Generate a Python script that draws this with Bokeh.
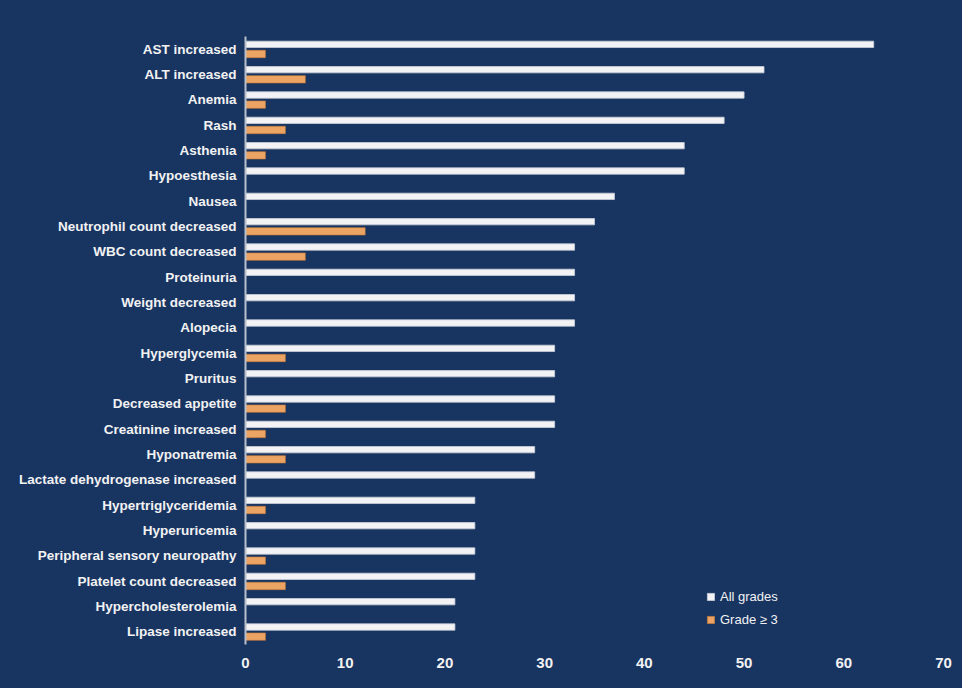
from bokeh.plotting import figure
from bokeh.models import ColumnDataSource, FactorRange, Legend, LegendItem, FixedTicker
from bokeh.transform import dodge
from bokeh.embed import file_html
from bokeh.resources import INLINE

categories = [
    "AST increased", "ALT increased", "Anemia", "Rash", "Asthenia", "Hypoesthesia",
    "Nausea", "Neutrophil count decreased", "WBC count decreased", "Proteinuria",
    "Weight decreased", "Alopecia", "Hyperglycemia", "Pruritus", "Decreased appetite",
    "Creatinine increased", "Hyponatremia", "Lactate dehydrogenase increased",
    "Hypertriglyceridemia", "Hyperuricemia", "Peripheral sensory neuropathy",
    "Platelet count decreased", "Hypercholesterolemia", "Lipase increased",
]
all_grades = [63, 52, 50, 48, 44, 44, 37, 35, 33, 33, 33, 33, 31, 31, 31, 31, 29, 29, 23, 23, 23, 23, 21, 21]
grade3 = [2, 6, 2, 4, 2, 0, 0, 12, 6, 0, 0, 0, 4, 0, 4, 2, 4, 0, 2, 0, 2, 4, 0, 2]
x_ticks = [0, 10, 20, 30, 40, 50, 60, 70]

BG = "#183562"
src = ColumnDataSource(dict(cat=categories, all=all_grades, g3=grade3))

p = figure(
    width=962, height=688,
    y_range=FactorRange(factors=list(reversed(categories))),
    x_range=(0, 70),
    output_backend="svg", toolbar_location=None,
    min_border_left=245, min_border_right=19, min_border_top=36, min_border_bottom=44,
    border_fill_color=BG, background_fill_color=BG,
)
p.border_fill_alpha = 0
p.background_fill_alpha = 0
p.outline_line_color = None
p.styles = {"background-color": BG}

r_all = p.hbar(y=dodge("cat", 0.19, range=p.y_range), left=0, right="all", height=0.25,
               source=src, fill_color="#f3f3f5", line_color="#c9ced8", line_width=0.8)
r_g3 = p.hbar(y=dodge("cat", -0.19, range=p.y_range), left=0, right="g3", height=0.29,
              source=src, fill_color="#eba463", line_color="#c97a35", line_width=0.6)

p.xgrid.visible = False
p.ygrid.visible = False

xa = p.xaxis[0]
xa.ticker = FixedTicker(ticks=x_ticks)
xa.axis_line_color = None
xa.major_tick_line_color = None
xa.minor_tick_line_color = None
xa.major_label_standoff = 7
xa.major_label_text_color = "#f2f2f2"
xa.major_label_text_font = "'Liberation Sans Narrow', 'Liberation Sans'"
xa.major_label_text_font_style = "bold"
xa.major_label_text_font_size = "15px"

ya = p.yaxis[0]
ya.axis_line_color = "#b8bfcc"
ya.axis_line_width = 2
ya.major_tick_line_color = None
ya.minor_tick_line_color = None
ya.major_label_standoff = 3
ya.major_label_text_color = "#f2f2f2"
ya.major_label_text_font = "Liberation Sans"
ya.major_label_text_font_style = "bold"
ya.major_label_text_font_size = "13.5px"

legend = Legend(
    items=[LegendItem(label="All grades", renderers=[r_all]),
           LegendItem(label="Grade \u2265 3", renderers=[r_g3])],
    location=(461, 17),
    background_fill_alpha=0, border_line_color=None,
    padding=0, margin=0, spacing=8,
    glyph_width=9, glyph_height=9, label_height=12, label_standoff=5,
    label_text_color="#f2f2f2", label_text_font="Liberation Sans",
    label_text_font_size="13px",
)
p.add_layout(legend, "center")

html = file_html(p, INLINE)
html = html.replace("<body>", '<body style="margin:0;background:%s">' % BG, 1)
open("out.html", "w").write(html)
